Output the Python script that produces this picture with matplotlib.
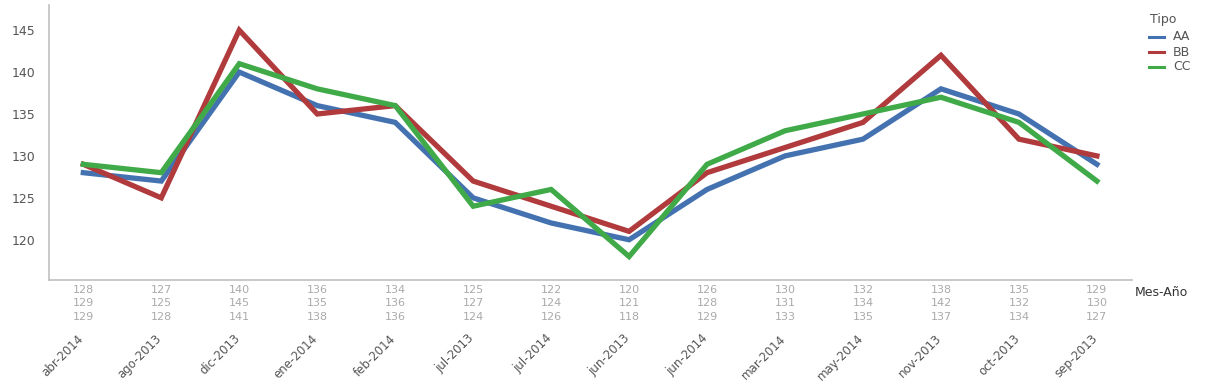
import matplotlib
matplotlib.use("Agg")
import matplotlib.pyplot as plt

categories = ["abr-2014", "ago-2013", "dic-2013", "ene-2014", "feb-2014", "jul-2013", "jul-2014",
              "jun-2013", "jun-2014", "mar-2014", "may-2014", "nov-2013", "oct-2013", "sep-2013"]
aa = [128, 127, 140, 136, 134, 125, 122, 120, 126, 130, 132, 138, 135, 129]
bb = [129, 125, 145, 135, 136, 127, 124, 121, 128, 131, 134, 142, 132, 130]
cc = [129, 128, 141, 138, 136, 124, 126, 118, 129, 133, 135, 137, 134, 127]
series_names = ["AA", "BB", "CC"]
colors = ["#4472b0", "#b03a3c", "#40aa48"]

W, H = 1210, 384
fig = plt.figure(figsize=(W / 100, H / 100), dpi=100)
ax = fig.add_axes([49 / W, 1 - 280 / H, (1132 - 49) / W, (280 - 5) / H])

x = list(range(len(categories)))
for vals, c in zip([aa, bb, cc], colors):
    ax.plot(x, vals, color=c, lw=3.8, solid_joinstyle="miter")

ax.set_xlim(-0.44, 13.45)
ax.set_ylim(115.2, 148)
ax.set_yticks([120, 125, 130, 135, 140, 145])
ax.tick_params(axis="y", length=0, labelsize=9, labelcolor="#555555", pad=10)
ax.set_xticks([])
for s in ["top", "right"]:
    ax.spines[s].set_visible(False)
for s in ["left", "bottom"]:
    ax.spines[s].set_color("#c0c0c0")
    ax.spines[s].set_linewidth(1.2)

# value table below axis
for i in x:
    for j, vals in enumerate([aa, bb, cc]):
        ax.annotate(str(vals[i]), xy=(i, 0), xycoords=("data", "axes fraction"),
                    xytext=(0, -10 - j * 13.5), textcoords="offset pixels",
                    ha="center", va="center", fontsize=8, color="#aaaaaa")
    ax.annotate(categories[i], xy=(i, 0), xycoords=("data", "axes fraction"),
                xytext=(-6, -52), textcoords="offset pixels",
                ha="right", va="top", rotation=45, rotation_mode="anchor",
                fontsize=8.5, color="#555555")

fig.text(1135 / W, 1 - 292 / H, "Mes-Año", ha="left", va="center", fontsize=9, color="#333333")

# legend
fig.text(1150 / W, 1 - 19 / H, "Tipo", ha="left", va="center", fontsize=9, color="#555555")
for k, (name, c) in enumerate(zip(series_names, colors)):
    yy = 1 - (37 + k * 15) / H
    fig.add_artist(plt.Line2D([1149 / W, 1164 / W], [yy, yy], color=c, lw=2.2, transform=fig.transFigure))
    fig.text(1173 / W, yy, name, ha="left", va="center", fontsize=9, color="#555555")

fig.savefig("out.png", dpi=100)
